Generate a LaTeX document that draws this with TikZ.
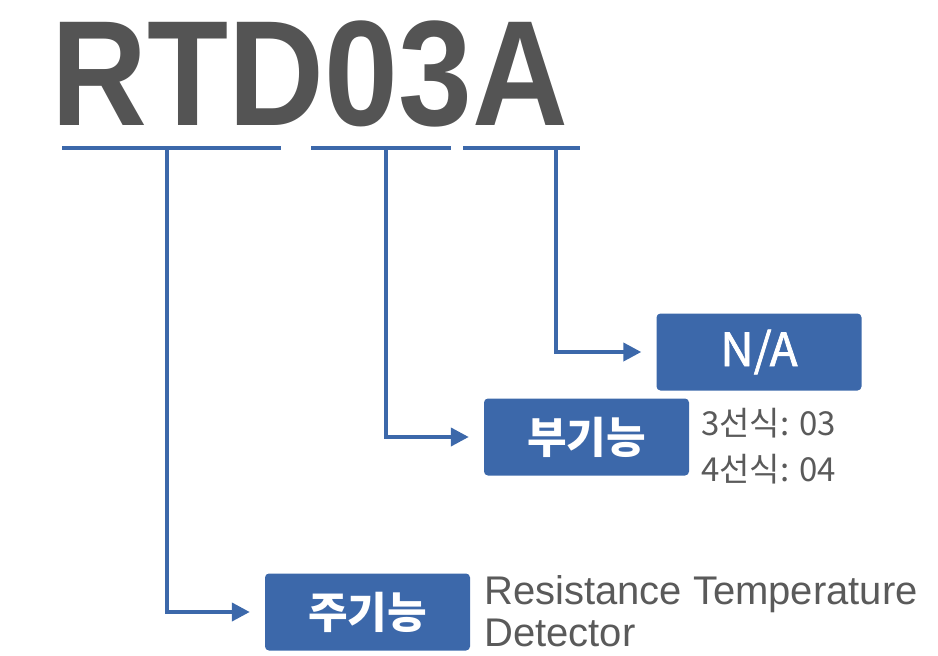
\documentclass[tikz,border=0pt]{standalone}
\usepackage{fontspec}
\setmainfont{Liberation Sans}
\newfontfamily\kr{Noto Sans CJK KR}
\newfontfamily\titlefont{Liberation Sans}
\usetikzlibrary{arrows.meta}
\definecolor{bl}{RGB}{60,104,170}
\definecolor{tgray}{RGB}{84,84,84}
\definecolor{lgray}{RGB}{90,90,90}
\tikzset{
  codebox/.style={fill=bl, draw=none, rounded corners=4pt, inner sep=0pt, text=white,
    minimum width=205pt, minimum height=77pt, font=\kr\bfseries\fontsize{43}{48}\selectfont},
  uline/.style={draw=bl, line width=4.6pt},
  conn/.style={draw=bl, line width=4pt, -{Triangle[length=18pt,width=18pt]}, shorten >=15pt},
  note/.style={text=lgray, inner sep=0pt, align=left}
}
\begin{document}
\begin{tikzpicture}[x=1pt,y=-1pt]
\useasboundingbox (0,0) rectangle (938,656);
\node[anchor=base, inner sep=0pt, text=tgray, font=\titlefont\bfseries\fontsize{150}{150}\selectfont] (title) at (310,125) {\scalebox{0.885}[1]{RTD03A}};
% underlines
\coordinate (u1a) at (62,148); \coordinate (u1b) at (281,148);
\coordinate (u2a) at (311,148); \coordinate (u2b) at (451,148);
\coordinate (u3a) at (463,148); \coordinate (u3b) at (580,148);
\draw[uline] (u1a) -- (u1b);
\draw[uline] (u2a) -- (u2b);
\draw[uline] (u3a) -- (u3b);
\coordinate (s1) at (167,146);
\coordinate (s2) at (386,146);
\coordinate (s3) at (556,146);
% boxes
\node[codebox, font=\kr\fontsize{46}{50}\selectfont\addfontfeature{FakeBold=1.5}] (na) at (759,352) {N/A};
\node[codebox] (bu) at (586.5,437) {부기능};
\node[codebox] (ju) at (367.5,612) {주기능};
% connectors
\draw[conn] (s3) |- (na.west);
\draw[conn] (s2) |- (bu.west);
\draw[conn] (s1) |- (ju.west);
% notes
\node[note, anchor=base west, font=\kr\fontsize{33}{46}\selectfont] (n2) at (701,481) {3선식: 03\\4선식: 04};
\node[note, anchor=base west, font=\fontsize{40}{42}\selectfont] (n1) at (484,646) {Resistance Temperature\\Detector};
\end{tikzpicture}
\end{document}
